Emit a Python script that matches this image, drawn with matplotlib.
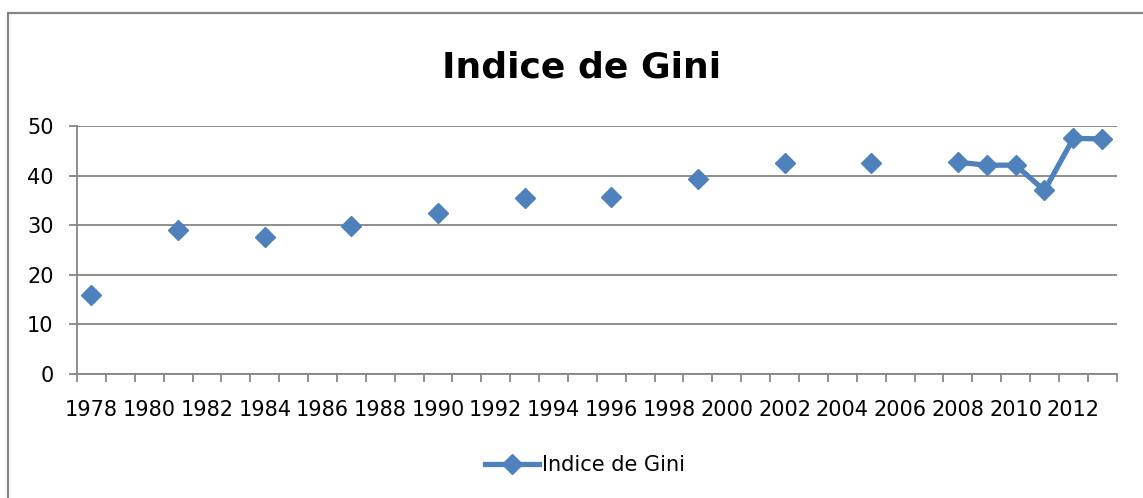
import numpy as np
import pandas as pd
import matplotlib
matplotlib.use('Agg')
import matplotlib.pyplot as plt
from matplotlib.patches import Rectangle

# Données
annees = [1978, 1981, 1984, 1987, 1990, 1993, 1996, 1999, 2002, 2005,
          2008, 2009, 2010, 2011, 2012, 2013]
gini = [16.0, 29.0, 27.7, 29.8, 32.4, 35.5, 35.7, 39.3, 42.6, 42.6,
        42.7, 42.1, 42.1, 37.0, 47.5, 47.4]
etiquettes = list(range(1978, 2013, 2))

# série annuelle complète (années manquantes = trous, comme dans Excel)
serie = pd.Series(gini, index=annees).reindex(range(1978, 2014))

bleu = '#4F81BD'
gris = '#868686'
W, H = 1143, 498

plt.rcParams['font.family'] = ['DejaVu Sans']
fig = plt.figure(figsize=(W / 100, H / 100), dpi=100)

# cadre du graphique
fig.patches.append(Rectangle((7.5 / W, -0.1), 1.2, 1 - 13.5 / H + 0.1,
                             transform=fig.transFigure, fill=False,
                             edgecolor=gris, linewidth=1.6))

ax = fig.add_axes([77 / W, 1 - 374 / H, (1116.7 - 77) / W, (374 - 126) / H])
ax.plot(serie.index, serie.values, color=bleu, lw=3.8, marker='D', ms=10,
        mec=bleu, mfc=bleu, label='Indice de Gini', zorder=3, clip_on=False)

ax.set_ylim(0, 50)
ax.set_xlim(1977.5, 2013.5)
ax.set_yticks(range(0, 51, 10))
ax.yaxis.grid(True, color=gris, lw=1.3)
ax.set_axisbelow(True)

ax.set_xticks(np.arange(1977.5, 2014, 1))
ax.set_xticklabels([])
ax.set_xticks(etiquettes, minor=True)
ax.set_xticklabels([str(a) for a in etiquettes], minor=True)
ax.tick_params(axis='x', which='major', length=5.8, width=1.3, color=gris)
ax.tick_params(axis='x', which='minor', length=0, pad=19, labelsize=15)
ax.tick_params(axis='y', length=5.8, width=1.3, color=gris, pad=11, labelsize=15)

for s in ['top', 'right']:
    ax.spines[s].set_visible(False)
for s in ['left', 'bottom']:
    ax.spines[s].set_color(gris)
    ax.spines[s].set_linewidth(1.3)

fig.text(582 / W, 1 - 67 / H, 'Indice de Gini', ha='center', va='center',
         fontsize=26, fontweight='bold')

fig.legend(loc='center', bbox_to_anchor=(585 / W, 1 - 465 / H), frameon=False,
           fontsize=15, handlelength=2.6, handletextpad=0.15)

fig.savefig('out.png', dpi=100)
